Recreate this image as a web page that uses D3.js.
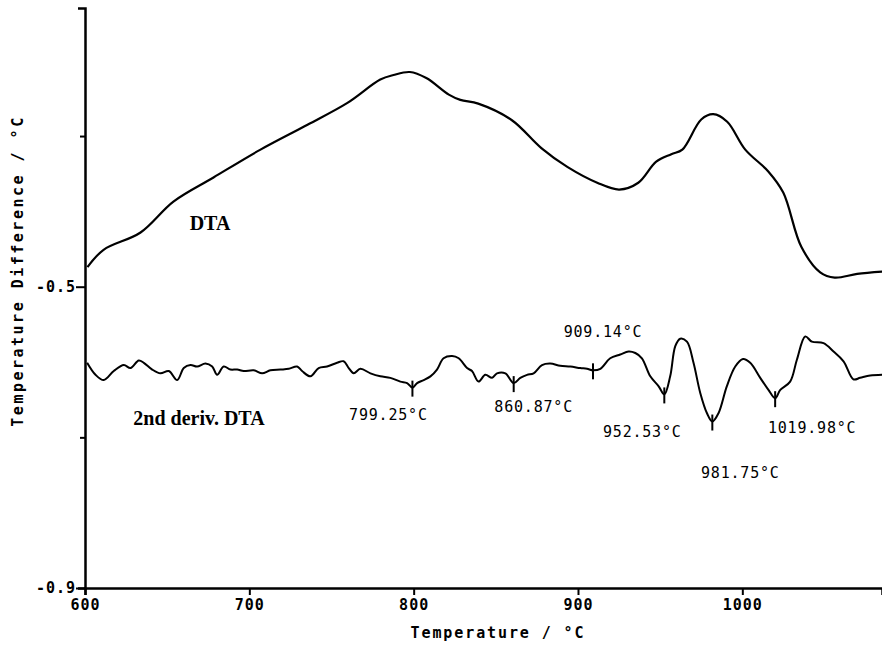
<!DOCTYPE html>
<html>
<head>
<meta charset="utf-8">
<script src="https://cdn.jsdelivr.net/npm/d3@7"></script>
<style>
  body { margin: 0; background: #fff; }
  svg { display: block; }
  .mono { font-family: "DejaVu Sans Mono", monospace; }
  .serif { font-family: "Liberation Serif", "Times New Roman", serif; font-weight: bold; }
</style>
</head>
<body>
<div id="chart"></div>
<script>
// DTA trace (temperature in °C, value in °C)
const dtaT = [601.5, 611.3, 633.8, 653.8, 678.2, 706.8, 735.4, 759.7, 779.7, 787.7,
  797.7, 807.7, 821.4, 828.4, 839.3, 859.8, 877.7, 893.5, 911.7, 925.1,
  936.7, 947.6, 956.8, 963.5, 975.0, 982.3, 990.8, 1001.8, 1015.8, 1024.9,
  1035.9, 1047.4, 1056.2, 1069.9, 1085.1];
const dtaV = [-0.474, -0.451, -0.428, -0.387, -0.355, -0.318, -0.285, -0.256, -0.225, -0.219,
  -0.215, -0.223, -0.245, -0.252, -0.257, -0.279, -0.316, -0.341, -0.362, -0.371,
  -0.362, -0.334, -0.324, -0.318, -0.278, -0.271, -0.281, -0.318, -0.347, -0.375,
  -0.447, -0.481, -0.488, -0.483, -0.480];

// second derivative trace, plotted on the same frame
const derivT = [601.3, 606.4, 611.4, 617.5, 623.6, 627.7, 632.7, 635.8, 640.9, 645.9,
  651.0, 656.1, 660.1, 664.2, 668.2, 673.3, 677.4, 680.4, 684.4, 688.5,
  692.6, 696.6, 702.7, 707.8, 712.8, 718.9, 724.0, 729.1, 732.1, 737.2,
  742.2, 747.3, 753.4, 757.4, 760.5, 763.5, 767.6, 773.7, 779.7, 785.8,
  791.9, 796.0, 799.25, 802.1, 806.1, 810.2, 814.2, 818.2, 823.4, 827.4,
  832.5, 835.5, 839.5, 843.6, 847.7, 850.7, 855.8, 860.87, 864.9, 869.0,
  873.0, 878.1, 883.1, 889.2, 895.3, 901.4, 905.5, 909.14, 913.6, 919.6,
  925.7, 930.8, 934.9, 938.9, 944.0, 949.0, 952.53, 956.1, 959.2, 962.2,
  966.3, 970.3, 974.4, 978.5, 981.75, 985.5, 990.6, 995.7, 1000.4, 1004.8,
  1010.9, 1015.9, 1019.98, 1023.1, 1029.1, 1033.2, 1038.3, 1042.3, 1049.4, 1055.5,
  1061.6, 1067.6, 1071.7, 1077.8, 1085.1];
const derivV = [-0.601, -0.617, -0.624, -0.612, -0.604, -0.608, -0.598, -0.601, -0.610, -0.615,
  -0.612, -0.624, -0.608, -0.604, -0.606, -0.602, -0.606, -0.617, -0.606, -0.610,
  -0.610, -0.612, -0.611, -0.615, -0.611, -0.610, -0.609, -0.606, -0.612, -0.619,
  -0.608, -0.606, -0.601, -0.599, -0.608, -0.615, -0.609, -0.615, -0.619, -0.621,
  -0.626, -0.628, -0.634, -0.628, -0.624, -0.619, -0.610, -0.595, -0.592, -0.595,
  -0.608, -0.612, -0.626, -0.617, -0.621, -0.615, -0.615, -0.628, -0.621, -0.617,
  -0.615, -0.604, -0.602, -0.605, -0.606, -0.608, -0.609, -0.611, -0.609, -0.595,
  -0.590, -0.586, -0.588, -0.595, -0.619, -0.632, -0.643, -0.619, -0.579, -0.569,
  -0.573, -0.601, -0.641, -0.668, -0.679, -0.668, -0.632, -0.606, -0.596, -0.601,
  -0.621, -0.637, -0.648, -0.637, -0.626, -0.597, -0.566, -0.573, -0.575, -0.586,
  -0.599, -0.623, -0.621, -0.618, -0.617];

// marked peak temperatures on the derivative trace
const peakTemps = [799.25, 860.87, 909.14, 952.53, 981.75, 1019.98];

const xTicks = [600, 700, 800, 900, 1000];
const yTicks = [-0.9, -0.7, -0.5, -0.3];
const yTickLabels = ["-0.9", "", "-0.5", ""];

const width = 882, height = 645;
const svg = d3.select("#chart").append("svg")
  .attr("width", width).attr("height", height);

const x = d3.scaleLinear().domain([600, 1085]).range([85, 882]);
const y = d3.scaleLinear().domain([-0.9, -0.13]).range([588, 8]);

// axes
const xAxis = svg.append("g")
  .attr("transform", `translate(0,${y(-0.9)})`)
  .call(d3.axisBottom(x).tickValues(xTicks).tickSize(7).tickPadding(4).tickFormat(d3.format("d")));
const yAxis = svg.append("g")
  .attr("transform", `translate(${x(600)},0)`)
  .call(d3.axisLeft(y).tickValues(yTicks).tickSize(7).tickPadding(2)
    .tickFormat((d, i) => yTickLabels[i]));

[xAxis, yAxis].forEach(g => {
  g.select(".domain").attr("stroke", "#000").attr("stroke-width", 2.5);
  g.selectAll(".tick line").attr("stroke", "#000").attr("stroke-width", 2);
  g.selectAll(".tick text")
    .attr("class", "mono")
    .attr("font-size", 15)
    .attr("font-weight", "bold")
    .attr("letter-spacing", 1)
    .attr("fill", "#000");
});
yAxis.selectAll(".tick line").attr("x2", (d, i) => yTickLabels[i] ? -9 : -5);

// axis titles
svg.append("text")
  .attr("class", "mono")
  .attr("x", 498).attr("y", 638)
  .attr("text-anchor", "middle")
  .attr("font-size", 15).attr("font-weight", "bold")
  .attr("letter-spacing", 1.9)
  .text("Temperature / °C");

svg.append("text")
  .attr("class", "mono")
  .attr("transform", "translate(23,271) rotate(-90)")
  .attr("text-anchor", "middle")
  .attr("font-size", 15).attr("font-weight", "bold")
  .attr("letter-spacing", 2.5)
  .text("Temperature Difference / °C");

// curves
const dtaData = dtaT.map((t, i) => ({ t, v: dtaV[i] }));
const derivData = derivT.map((t, i) => ({ t, v: derivV[i] }));

const line = d3.line()
  .x(d => x(d.t))
  .y(d => y(d.v))
  .curve(d3.curveCatmullRom.alpha(0.5));

svg.append("path").datum(dtaData)
  .attr("fill", "none").attr("stroke", "#000").attr("stroke-width", 2.2)
  .attr("d", line);

svg.append("path").datum(derivData)
  .attr("fill", "none").attr("stroke", "#000").attr("stroke-width", 2)
  .attr("d", line);

// peak markers and labels
const labelOffsets = [[-24, 32], [20, 29], [10, -33], [-22, 43], [28, 56], [37, 35]];
peakTemps.forEach((t, i) => {
  const v = derivV[derivT.indexOf(t)];
  const px = x(t), py = y(v);
  svg.append("line")
    .attr("x1", px).attr("x2", px)
    .attr("y1", py - 7).attr("y2", py + 9)
    .attr("stroke", "#000").attr("stroke-width", 2);
  svg.append("text")
    .attr("class", "mono")
    .attr("x", px + labelOffsets[i][0])
    .attr("y", py + labelOffsets[i][1])
    .attr("text-anchor", "middle")
    .attr("font-size", 15)
    .attr("letter-spacing", 0.8)
    .text(t.toFixed(2) + "°C");
});

// series labels
svg.append("text").attr("class", "serif")
  .attr("x", 210).attr("y", 230)
  .attr("text-anchor", "middle").attr("font-size", 20)
  .text("DTA");
svg.append("text").attr("class", "serif")
  .attr("x", 199).attr("y", 425)
  .attr("text-anchor", "middle").attr("font-size", 20)
  .text("2nd deriv. DTA");
</script>
</body>
</html>
